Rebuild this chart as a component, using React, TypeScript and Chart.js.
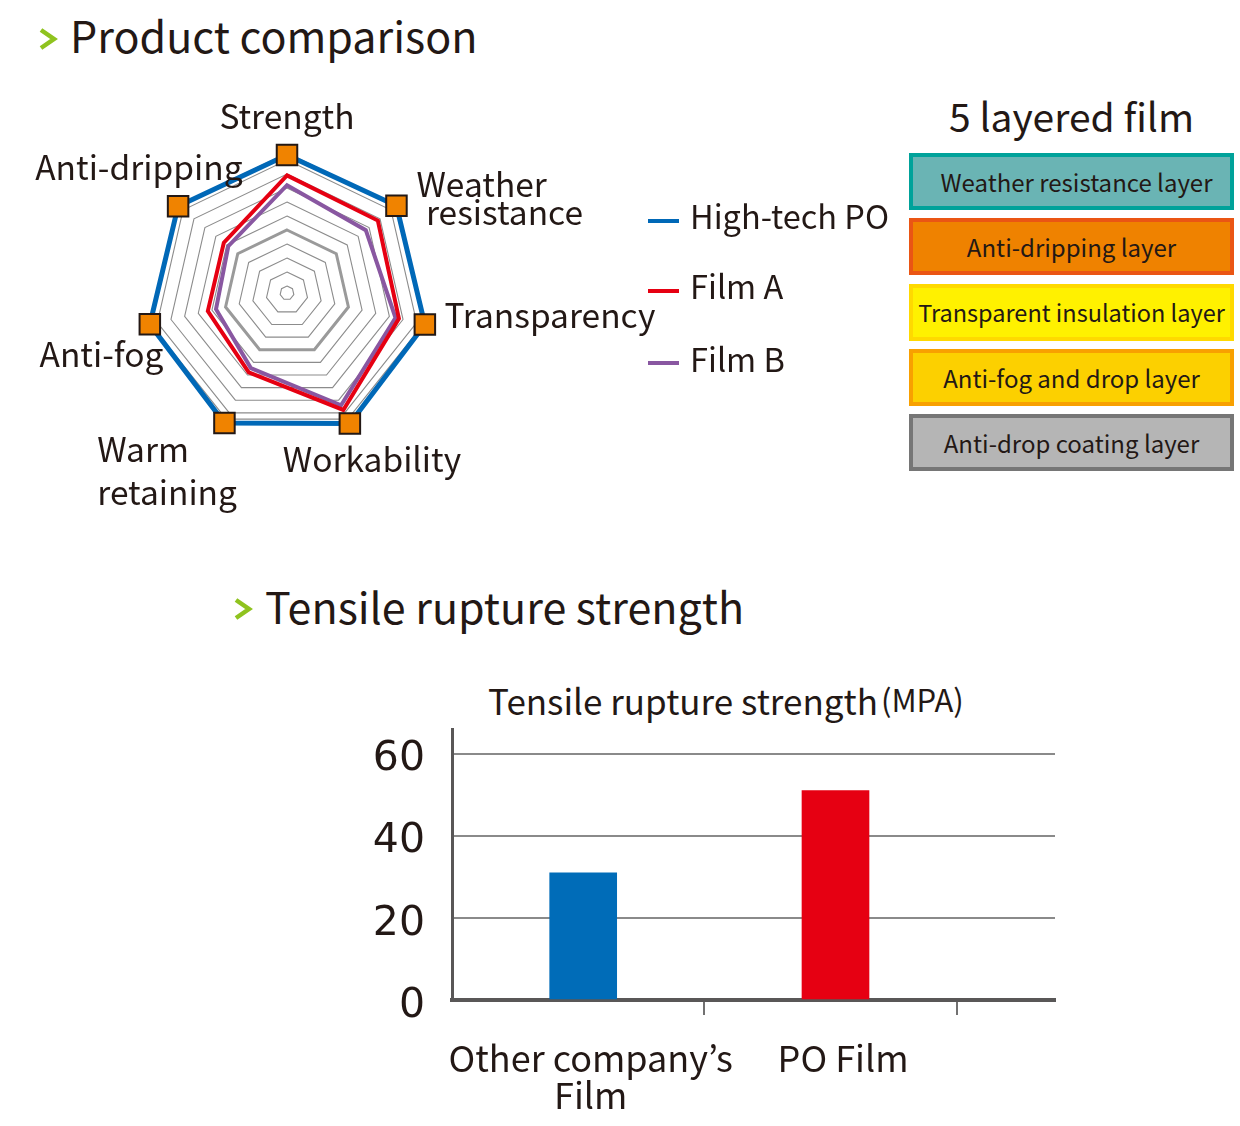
import React, { useEffect, useRef } from 'react';
import { Chart, registerables } from 'chart.js';

Chart.register(...registerables);

const FONT = '"Noto Sans CJK JP", "Noto Sans", sans-serif';
const NUM_FONT = '"DejaVu Sans", "Noto Sans", sans-serif';
const TEXT = '#231815';

// ---------- Radar data ----------
const RADAR_AXES: string[][] = [
  ['Strength'],
  ['Weather', ' resistance'],
  ['Transparency'],
  ['Workability'],
  ['Warm', 'retaining'],
  ['Anti-fog'],
  ['Anti-dripping'],
];
const RADAR_SERIES = ['High-tech PO', 'Film A', 'Film B'];
const HIGH_TECH_PO = [9.85, 10.0, 10.1, 10.35, 10.3, 10.05, 9.95];
const FILM_A = [8.4, 8.3, 8.2, 9.27, 6.3, 5.8, 5.77];
const FILM_B = [7.7, 7.2, 7.95, 8.9, 5.95, 5.2, 5.36];
const RADAR_RINGS = [0, 0.5, 1.5, 2.5, 3.5, 4.5, 5.5, 6.5, 7.5, 8.5, 9.5, 10];
const RADAR_MAX = 10;
const BASE_RING = 4.5;

// ---------- Layer data ----------
const LAYERS = [
  'Weather resistance layer',
  'Anti-dripping layer',
  'Transparent insulation layer',
  'Anti-fog and drop layer',
  'Anti-drop coating layer',
];

// ---------- Bar data ----------
const BAR_CATEGORIES: string[][] = [['Other company’s', 'Film'], ['PO Film']];
const TENSILE = [31, 51];
const BAR_TICKS = [0, 20, 40, 60];
const BAR_MAX = 66;

// ---------- styles ----------
const SERIES_COLORS = ['#0068b7', '#e60012', '#8957a1'];
const SERIES_WIDTHS = [5, 4, 4];
const LAYER_STYLES = [
  { bg: '#6ab4b4', border: '#00a29a' },
  { bg: '#ef8200', border: '#ea5514' },
  { bg: '#fff100', border: '#ffd900' },
  { bg: '#fcd000', border: '#f8a000' },
  { bg: '#b5b5b5', border: '#767676' },
];
const BAR_COLORS = ['#006cb8', '#e60012'];
const BAR_SHIFT = 0.52; // bar position inside each category
const LABEL_SHIFT = 0.55; // category label position inside each category

const AXIS_LABEL_SIZE = 33.5;
// label placement relative to the scale's outer vertex of each axis: [dx, dy(baseline)] per line
const LABEL_LAYOUT: { align: CanvasTextAlign; lines: number[][] }[] = [
  { align: 'center', lines: [[0, -24]] },
  { align: 'left', lines: [[20, -9], [22, 19]] },
  { align: 'left', lines: [[21, 4]] },
  { align: 'left', lines: [[-65, 53]] },
  { align: 'left', lines: [[-129, 43], [-129, 86]] },
  { align: 'right', lines: [[13, 43]] },
  { align: 'right', lines: [[65, -26]] },
];

const radarLabelPlugin = {
  id: 'radarLabels',
  afterDraw(chart: any) {
    const scale = chart.scales.r;
    const ctx = chart.ctx;
    ctx.save();
    ctx.font = `${AXIS_LABEL_SIZE}px ${FONT}`;
    ctx.fillStyle = TEXT;
    ctx.textBaseline = 'alphabetic';
    RADAR_AXES.forEach((lines, i) => {
      const p = scale.getPointPosition(i, scale.getDistanceFromCenterForValue(RADAR_MAX));
      const lay = LABEL_LAYOUT[i];
      ctx.textAlign = lay.align;
      lines.forEach((t, j) => ctx.fillText(t, p.x + lay.lines[j][0], p.y + lay.lines[j][1]));
    });
    ctx.restore();
  },
};

function RadarChart() {
  const ref = useRef<HTMLCanvasElement>(null);
  useEffect(() => {
    if (!ref.current) return;
    const datasets = [HIGH_TECH_PO, FILM_A, FILM_B].map((d, i) => ({
      label: RADAR_SERIES[i],
      data: d,
      borderColor: SERIES_COLORS[i],
      borderWidth: SERIES_WIDTHS[i],
      backgroundColor: 'transparent',
      fill: false,
      tension: 0,
      borderJoinStyle: 'miter' as const,
      pointStyle: 'rect' as const,
      pointRadius: i === 0 ? 14.5 : 0,
      pointBackgroundColor: '#f08300',
      pointBorderColor: '#231815',
      pointBorderWidth: 2,
      clip: false as const,
    }));
    const chart = new Chart(ref.current, {
      type: 'radar',
      data: { labels: RADAR_AXES.map((l) => l.map((s) => s.trim()).join(' ')), datasets },
      options: {
        animation: false,
        responsive: false,
        maintainAspectRatio: false,
        layout: { padding: { left: 147, right: 233, top: 73, bottom: 107 } },
        plugins: { legend: { display: false }, tooltip: { enabled: false } },
        scales: {
          r: {
            min: 0,
            max: RADAR_MAX,
            afterBuildTicks: (axis: any) => {
              axis.ticks = RADAR_RINGS.map((v) => ({ value: v }));
            },
            ticks: { display: false },
            pointLabels: { display: false },
            angleLines: { display: false },
            grid: {
              color: (c: any) => (c.tick && c.tick.value === BASE_RING ? '#9a9a9a' : '#8c8c8c'),
              lineWidth: (c: any) => (c.tick && c.tick.value === BASE_RING ? 3 : 1.1),
            },
          },
        },
      },
      plugins: [radarLabelPlugin],
    });
    return () => chart.destroy();
  }, []);
  return <canvas ref={ref} width={660} height={460} style={{ position: 'absolute', left: 0, top: 80, display: 'block' }} />;
}

function BarChart() {
  const ref = useRef<HTMLCanvasElement>(null);
  useEffect(() => {
    if (!ref.current) return;
    const chart = new Chart(ref.current, {
      type: 'bar',
      data: {
        datasets: [
          {
            label: 'Tensile rupture strength',
            data: TENSILE.map((v, i) => ({ x: i + BAR_SHIFT, y: v })),
            backgroundColor: BAR_COLORS,
            borderWidth: 0,
            barThickness: 67,
          },
        ],
      },
      options: {
        animation: false,
        responsive: false,
        maintainAspectRatio: false,
        layout: { padding: { left: 22, right: 45, top: 8, bottom: 6 } },
        plugins: { legend: { display: false }, tooltip: { enabled: false } },
        scales: {
          x: {
            type: 'linear',
            min: 0,
            max: 2.39,
            offset: false,
            afterBuildTicks: (axis: any) => {
              const t: { value: number }[] = [];
              BAR_CATEGORIES.forEach((_, i) => {
                t.push({ value: i + LABEL_SHIFT });
                t.push({ value: i + 1 });
              });
              axis.ticks = t;
            },
            afterFit: (axis: any) => {
              axis.height = 120;
            },
            grid: {
              offset: false,
              drawOnChartArea: false,
              drawTicks: true,
              tickLength: 15,
              lineWidth: 2,
              color: (c: any) => (c.tick && Number.isInteger(c.tick.value) ? '#727171' : 'rgba(0,0,0,0)'),
            },
            border: { display: true, color: '#595757', width: 4 },
            ticks: {
              autoSkip: false,
              maxRotation: 0,
              padding: 25,
              color: TEXT,
              font: { family: FONT, size: 36, lineHeight: 1.03 },
              callback: (v: any) => {
                const n = Number(v);
                return Number.isInteger(n) ? '' : BAR_CATEGORIES[Math.floor(n)];
              },
            },
          },
          y: {
            min: 0,
            max: BAR_MAX,
            afterBuildTicks: (axis: any) => {
              axis.ticks = BAR_TICKS.map((v) => ({ value: v }));
            },
            afterFit: (axis: any) => {
              axis.width = 90;
            },
            grid: { color: '#8a8a8a', lineWidth: 2, drawTicks: false },
            border: { display: true, color: '#595757', width: 3 },
            ticks: {
              padding: 27,
              labelOffset: 6,
              color: TEXT,
              font: { family: NUM_FONT, size: 41, lineHeight: 0.2 },
            },
          },
        },
      },
    });
    return () => chart.destroy();
  }, []);
  return <canvas ref={ref} width={760} height={428} style={{ position: 'absolute', left: 340, top: 698, display: 'block' }} />;
}

function Chevron({ left, top }: { left: number; top: number }) {
  return (
    <svg width={22} height={26} style={{ position: 'absolute', left, top }}>
      <polyline points="4,3 17,12 4,21" fill="none" stroke="#8fc31f" strokeWidth={4.5} />
    </svg>
  );
}

const abs = (left: number, top: number, size: number, extra: React.CSSProperties = {}): React.CSSProperties => ({
  position: 'absolute',
  left,
  top,
  fontSize: size,
  lineHeight: 1,
  fontFamily: FONT,
  color: TEXT,
  whiteSpace: 'nowrap',
  ...extra,
});

export default function App() {
  const legendY = [198.6, 268.6, 341.6];
  const legendLineY = [219, 289, 361];
  return (
    <div style={{ position: 'absolute', left: 0, top: 0, width: 1240, height: 1126, background: '#fff', overflow: 'hidden' }}>
      <Chevron left={37} top={27} />
      <div style={abs(70, 12.8, 43)}>Product comparison</div>

      <RadarChart />

      {RADAR_SERIES.map((name, i) => (
        <div key={name}>
          <div style={{ position: 'absolute', left: 648, top: legendLineY[i], width: 31, height: 4, background: SERIES_COLORS[i] }} />
          <div style={abs(690, legendY[i], 32.5)}>{name}</div>
        </div>
      ))}

      <div style={abs(909, 95.5, 39, { width: 325, textAlign: 'center' })}>5 layered film</div>
      {LAYERS.map((name, i) => (
        <div
          key={name}
          style={{
            position: 'absolute',
            left: 909,
            top: 153 + i * 65.3,
            width: 325,
            height: 57,
            boxSizing: 'border-box',
            background: LAYER_STYLES[i].bg,
            border: `4px solid ${LAYER_STYLES[i].border}`,
            display: 'flex',
            alignItems: 'center',
            justifyContent: 'center',
            paddingLeft: i === 0 ? 10 : 0,
            fontFamily: FONT,
            fontSize: i === 2 ? 23.5 : 24,
            color: TEXT,
            whiteSpace: 'nowrap',
          }}
        >
          {name}
        </div>
      ))}

      <Chevron left={232} top={597} />
      <div style={abs(265, 583.8, 43)}>Tensile rupture strength</div>

      <div style={abs(488, 682, 35)}>
        Tensile rupture strength
        <span style={{ fontSize: 31, position: 'relative', top: -3, marginLeft: 3 }}>(MPA)</span>
      </div>

      <BarChart />
    </div>
  );
}
